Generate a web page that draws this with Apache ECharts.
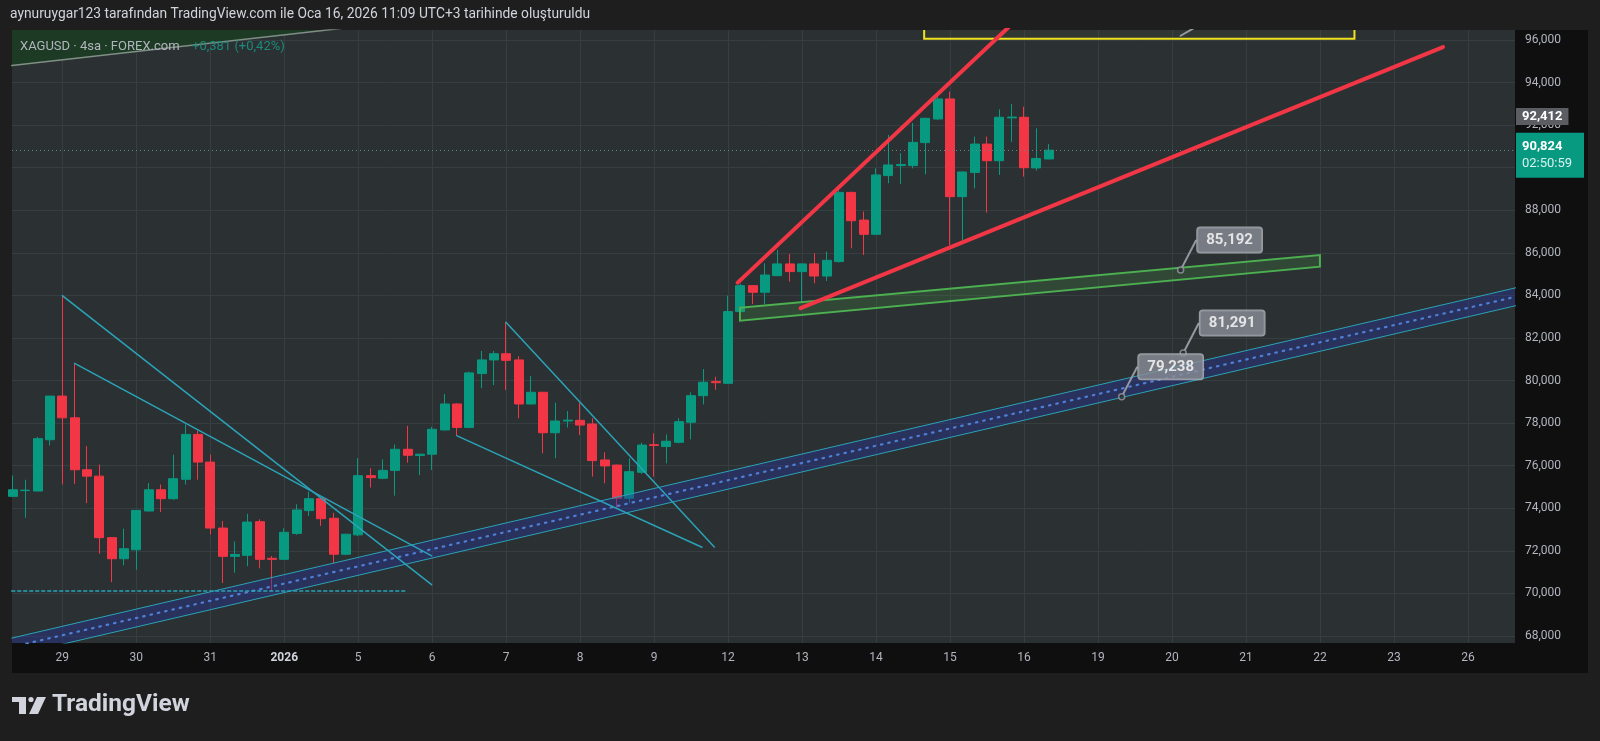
<!DOCTYPE html>
<html><head><meta charset="utf-8">
<script src="https://cdn.jsdelivr.net/npm/echarts@6/dist/echarts.min.js"></script>
<style>html,body{margin:0;padding:0;background:#1e1e1e;}#c{width:1600px;height:741px;}</style>
</head><body><div id="c"></div>
<script>
// ---- candles (4h bars, XAGUSD) ----
const opens = [74.56,74.83,74.81,77.22,79.27,78.25,75.81,75.51,72.62,71.63,
 72.05,73.87,74.87,74.45,75.36,77.47,76.17,73.07,71.74,71.79,
 73.37,71.65,71.60,72.82,73.89,74.45,73.53,71.84,72.75,75.53,
 75.41,75.78,76.77,76.48,76.54,77.68,78.90,77.80,80.33,80.97,
 81.26,80.97,78.90,79.45,77.55,78.10,78.13,77.96,76.27,76.03,
 74.47,75.69,76.99,76.90,77.10,78.04,79.29,79.95,79.87,83.24,
 84.46,84.15,84.93,85.48,85.12,85.48,84.91,85.59,88.84,87.54,
 86.87,89.63,90.10,90.10,91.18,92.29,93.23,88.64,89.78,91.11,
 90.33,92.34,92.37,89.99,90.41];
const highs = [75.54,75.34,77.35,79.28,83.97,80.79,76.92,76.05,72.64,73.04,
 73.90,75.18,75.12,76.52,77.94,77.66,76.52,73.40,72.44,73.74,
 73.48,71.76,73.06,74.19,74.78,74.50,73.79,72.80,76.35,75.88,
 76.30,77.00,77.87,76.56,77.83,79.37,78.93,80.42,81.39,81.39,
 82.74,81.15,80.22,79.47,78.96,78.57,78.96,78.23,76.63,76.05,
 76.35,77.08,77.52,77.47,78.23,79.45,80.54,80.18,83.99,84.55,
 84.48,85.51,86.14,85.95,85.50,85.98,86.06,89.03,88.88,87.94,
 89.97,91.54,90.68,92.10,92.34,93.50,93.57,89.82,91.46,91.46,
 92.74,92.99,92.87,91.85,91.11];
const lows = [74.52,73.56,74.80,76.95,75.12,75.15,74.24,71.86,70.53,71.32,
 71.11,73.85,73.82,74.40,75.12,75.34,72.77,70.49,70.97,71.28,
 71.18,70.08,71.58,72.75,73.64,73.17,71.41,71.80,72.70,74.97,
 75.36,74.59,76.14,75.56,75.80,77.65,77.44,77.78,79.64,79.79,
 79.56,78.23,78.88,76.58,76.35,77.79,77.44,75.49,75.17,74.00,
 74.24,75.61,75.49,76.11,77.05,77.24,78.88,79.56,79.85,83.20,
 83.60,83.60,84.90,84.65,83.66,84.57,84.68,85.54,86.21,85.90,
 86.85,89.27,89.24,89.97,89.69,92.25,86.37,86.60,89.03,87.89,
 89.66,91.22,89.58,89.86,90.40];
const closes = [74.87,74.85,77.27,79.27,78.25,75.81,75.51,72.62,71.63,72.10,
 73.90,74.87,74.45,75.39,77.47,76.17,73.07,71.74,71.83,73.35,
 71.60,71.60,72.87,73.92,74.45,73.51,71.84,72.78,75.53,75.44,
 75.78,76.77,76.49,76.54,77.71,78.90,77.80,80.36,80.97,81.26,
 80.95,78.90,79.45,77.55,78.10,78.14,77.91,76.24,75.99,74.47,
 75.72,76.97,76.95,77.15,78.07,79.29,79.92,79.90,83.24,84.46,
 84.15,84.96,85.48,85.12,85.48,84.91,85.65,88.84,87.51,86.87,
 89.66,90.13,90.15,91.19,92.32,93.23,88.64,89.80,91.11,90.33,
 92.37,92.38,90.00,90.43,90.824];

// ---- time axis (bar slots; each day = 6 slots) ----
const dayLabels = ['29','30','31','2026','5','6','7','8','9','12','13','14','15','16','19','20','21','22','23','26'];
const daySlots  = [4,10,16,22,28,34,40,46,52,58,64,70,76,82,88,94,100,106,112,118];
const priceTicks = [68,70,72,74,76,78,80,82,84,86,88,90,92,94,96];
const lastPrice = 90.824;
const lastTimer = '02:50:59';
const markPrice = 92.412;

// ---- drawings in (slot, price) ----
const redUpper = [[58.78,84.60],[81.37,96.94]];
const redLower = [[63.88,83.40],[115.98,95.67]];
const greenBox = [[58.96,83.42],[106.0,85.90],[106.0,85.35],[58.96,82.81]];
const channelCenter = [[-0.1,67.48],[121.9,83.94]];
const channelHalf = 0.42;
const cyanA = [[4.0,83.99],[33.95,70.41]];
const cyanB = [[5.0,80.81],[33.96,71.76]];
const cyanC = [[39.98,82.74],[56.88,72.18]];
const cyanD = [[35.98,77.41],[55.88,72.17]];
const supportLine = [[-0.1,70.11],[31.93,70.11]];
const yellowRect = [[73.9,96.06],[108.8,97.6]];
const topShadeLine = [[-0.1,94.80],[33.0,96.96]];
const callouts = [[94.70,85.192],[94.91,81.291],[89.92,79.238]];
const topAnchor = [[94.7,96.2],[95.9,96.6]];

const fmt = v => v.toFixed(3).replace('.', ',');
const GREEN = '#089981', RED = '#f23645', CYAN = '#2aa3b8';

function lineS(pts, color, width, type, z) {
  return {type:'line', data: pts, showSymbol:false, silent:true, z: z||4, clip:true,
    lineStyle:{color, width, type: type||'solid', cap:'round'}, animation:false};
}
function polyS(pts, style, z) {
  return {type:'custom', coordinateSystem:'cartesian2d', clip:true, silent:true, z: z||3, animation:false,
    data:[pts[0]],
    renderItem:(params, api) => ({type:'polygon', shape:{points: pts.map(p => api.coord(p))}, style})};
}
const chUpper = channelCenter.map(p => [p[0], p[1] + channelHalf]);
const chLower = channelCenter.map(p => [p[0], p[1] - channelHalf]);
const chPoly = [chUpper[0], chUpper[1], chLower[1], chLower[0]];
const rectPoly = [[yellowRect[0][0],yellowRect[0][1]],[yellowRect[1][0],yellowRect[0][1]],[yellowRect[1][0],yellowRect[1][1]],[yellowRect[0][0],yellowRect[1][1]]];
const shadePoly = [topShadeLine[0], topShadeLine[1], [topShadeLine[0][0], topShadeLine[1][1]]];

const chart = echarts.init(document.getElementById('c'));
chart.setOption({
  animation:false,
  backgroundColor:'#1e1e1e',
  textStyle:{fontFamily:'Roboto, "Noto Sans", sans-serif'},
  grid:{left:12, right:85, top:30, bottom:98, show:true, backgroundColor:'#2b3133', borderWidth:0},
  xAxis:{type:'value', min:-0.08, max:121.82,
    axisLine:{show:false}, axisTick:{show:false, customValues: daySlots},
    splitLine:{show:true, lineStyle:{color:'#373e41', width:1}},
    axisLabel:{customValues: daySlots, color:'#b2b5be', fontSize:12, margin:9,
      formatter: v => { const t = dayLabels[daySlots.indexOf(v)]; return t === '2026' ? '{b|2026}' : t; },
      rich:{b:{fontWeight:'bold', color:'#d1d4dc', fontSize:12}}}},
  yAxis:{type:'value', position:'right', min:67.67, max:96.47, scale:true,
    axisLine:{show:false}, axisTick:{show:false, customValues: priceTicks},
    splitLine:{show:true, lineStyle:{color:'#373e41', width:1}},
    axisLabel:{customValues: priceTicks, color:'#b2b5be', fontSize:12, margin:10, formatter: fmt}},
  graphic:{elements:[
    {type:'rect', z:-100, shape:{x:1515, y:30, width:73, height:643}, style:{fill:'#0f0f0f'}},
    {type:'rect', z:-100, shape:{x:12, y:643, width:1576, height:30}, style:{fill:'#0f0f0f'}},
    {type:'text', z:100, left:10, top:8, style:{text:'aynuruygar123 tarafından TradingView.com ile Oca 16, 2026 11:09 UTC+3 tarihinde oluşturuldu', fill:'#d1d4dc', fontSize:13.8, fontFamily:'Roboto'}},
    {type:'text', z:100, left:20, top:40, style:{text:'XAGUSD · 4sa · FOREX.com', fill:'#b2b5be', fontSize:13, fontFamily:'Roboto'}},
    {type:'text', z:100, left:192, top:40, style:{text:'+0,381 (+0,42%)', fill:'#1b8a7a', fontSize:13, fontFamily:'Roboto'}},
    {type:'rect', z:100, shape:{x:12, y:697, width:14, height:5}, style:{fill:'#d1d4dc'}},
    {type:'rect', z:100, shape:{x:19, y:697, width:7, height:17}, style:{fill:'#d1d4dc'}},
    {type:'circle', z:100, shape:{cx:31, cy:699.5, r:2.6}, style:{fill:'#d1d4dc'}},
    {type:'polygon', z:100, shape:{points:[[37,697],[46,697],[38,714],[29,714]]}, style:{fill:'#d1d4dc'}},
    {type:'text', z:100, left:52, top:692, style:{text:'TradingView', fill:'#d1d4dc', fontSize:24.5, fontWeight:'bold', fontFamily:'Roboto'}}
  ]},
  series:[
    polyS(shadePoly, {fill:'#1d3a24', stroke:'none'}, 1),
    lineS(topShadeLine, '#7f8f86', 1.5, 'solid', 2),
    {type:'candlestick', z:2, animation:false, silent:true,
      data: opens.map((o, i) => [i, o, closes[i], lows[i], highs[i]]),
      encode:{x:0, y:[1,2,3,4]}, barWidth:9.5,
      itemStyle:{color:GREEN, color0:RED, borderColor:GREEN, borderColor0:RED, borderWidth:1},
      markLine:{symbol:'none', silent:true, animation:false,
        data:[
          {yAxis:markPrice, lineStyle:{color:'rgba(0,0,0,0)', width:1},
            label:{show:true, position:'end', distance:1, formatter: () => fmt(markPrice),
              backgroundColor:'#5b5d62', color:'#fff', fontSize:13, fontWeight:'bold', padding:[2,6,2,6]}},
          {yAxis:lastPrice, lineStyle:{color:'#5f8a84', type:[1,3], width:1},
            label:{show:true, position:'end', distance:1, offset:[0,5], formatter: () => fmt(lastPrice) + '\n{t|' + lastTimer + '}',
              backgroundColor:GREEN, color:'#fff', fontSize:13, fontWeight:'bold', padding:[5,4,6,6], lineHeight:17, width:58,
              rich:{t:{color:'#d8f2ee', fontSize:13, fontWeight:'normal', lineHeight:17}}}}
        ]}},
    polyS(chPoly, {fill:'rgba(38,52,150,0.42)', stroke:'none'}, 3),
    lineS(chUpper, CYAN, 1, 'solid', 4),
    lineS(chLower, CYAN, 1, 'solid', 4),
    lineS(channelCenter, '#4f7fd4', 2.2, [1.5,6], 4),
    polyS(greenBox, {fill:'rgba(76,175,80,0.18)', stroke:'#4caf50', lineWidth:2}, 4),
    polyS(rectPoly, {fill:'rgba(255,235,59,0.03)', stroke:'#f0e41e', lineWidth:2}, 4),
    lineS(topAnchor, '#9598a1', 2, 'solid', 4),
    lineS(cyanA, CYAN, 1.5, 'solid', 5),
    lineS(cyanB, CYAN, 1.5, 'solid', 5),
    lineS(cyanC, CYAN, 1.5, 'solid', 5),
    lineS(cyanD, CYAN, 1.5, 'solid', 5),
    lineS(supportLine, CYAN, 1.5, [3,3], 5),
    lineS(redUpper, RED, 4, 'solid', 6),
    lineS(redLower, RED, 4, 'solid', 6),
    {type:'scatter', z:8, silent:true, animation:false, data: callouts, symbolSize:6,
      itemStyle:{color:'#2b3133', borderColor:'#9598a1', borderWidth:1.5},
      label:{show:true, position:'inside', formatter: p => fmt(p.value[1]),
        backgroundColor:'#8b8e97', borderColor:'#b5b8bf', borderWidth:1, borderRadius:3,
        padding:[5,9,5,9], color:'#fff', fontSize:15, fontWeight:'bold'},
      labelLayout:{dx:49, dy:-30},
      labelLine:{show:true, lineStyle:{color:'#9598a1', width:2}}}
  ]
});
</script></body></html>
